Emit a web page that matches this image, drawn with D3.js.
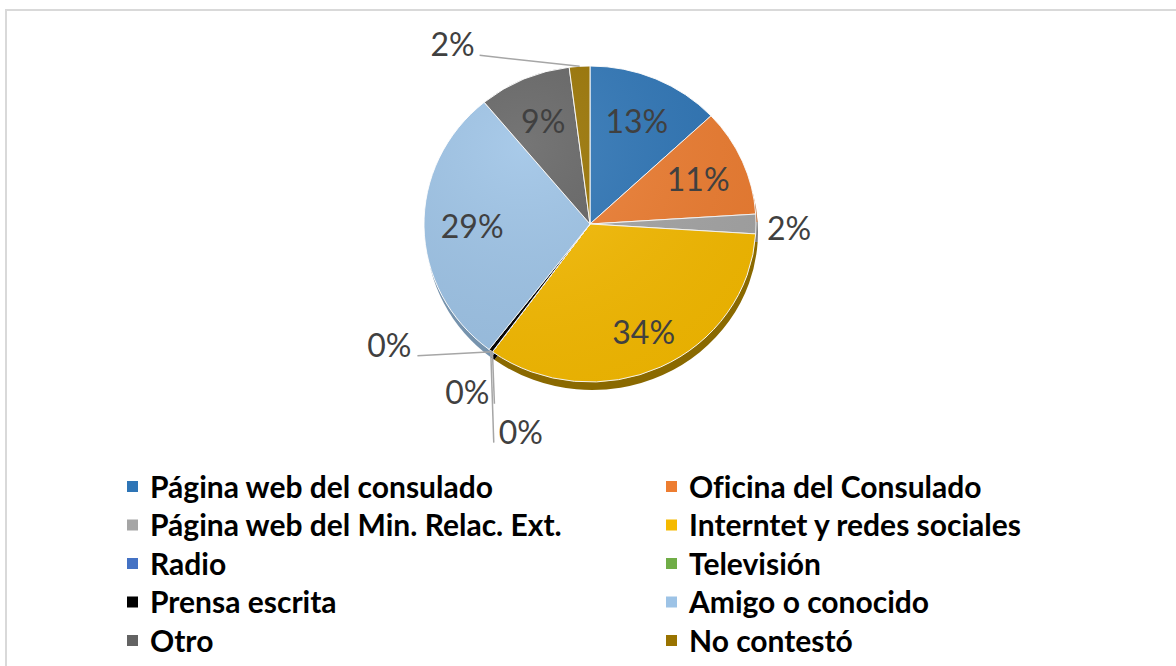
<!DOCTYPE html>
<html>
<head>
<meta charset="utf-8">
<script src="https://cdn.jsdelivr.net/npm/d3@7"></script>
<style>
  body { margin: 0; background: #fff; }
  svg { display: block; }
  text { font-variant-ligatures: none; }
</style>
</head>
<body>
<div id="chart"></div>
<script>
// data (percent of answers)
var categories = ["Página web del consulado", "Oficina del Consulado", "Página web del Min. Relac. Ext.",
  "Interntet y redes sociales", "Radio", "Televisión", "Prensa escrita", "Amigo o conocido", "Otro", "No contestó"]
var values = [13, 11, 2, 34, 0, 0, 0.4, 28.6, 9, 2]
var colors = ["#2E75B6", "#ED7D31", "#A5A5A5", "#F5BA00", "#4472C4", "#70AD47", "#000000", "#9DC3E6", "#636363", "#997300"]

var W = 1176, H = 666
var cx = 590, cy = 224, rx = 166, ry = 158, depth = 8
var fontLabel = "Lato, 'Liberation Sans', sans-serif"

var svg = d3.select("#chart").append("svg").attr("width", W).attr("height", H)

// outer chart border (right/bottom run off the picture)
svg.append("rect").attr("x", 6).attr("y", 10).attr("width", W + 20).attr("height", H + 20)
  .attr("fill", "#fff").attr("stroke", "#d9d9d9").attr("stroke-width", 2)

var pie = d3.pie().sort(null).value(d => d)
var arcs = pie(values)
var arc = d3.arc().innerRadius(0).outerRadius(rx)

var defs = svg.append("defs")
var grad = defs.append("radialGradient").attr("id", "shine")
  .attr("cx", "30%").attr("cy", "25%").attr("r", "90%")
grad.append("stop").attr("offset", 0).attr("stop-color", "#fff").attr("stop-opacity", 0.12)
grad.append("stop").attr("offset", 1).attr("stop-color", "#000").attr("stop-opacity", 0.06)

// side of the tilted pie
var side = svg.append("g").attr("transform", "translate(" + (cx + 2) + "," + (cy + depth) + ") scale(1," + (ry / rx) + ")")
side.selectAll("path").data(arcs).enter().append("path")
  .attr("d", arc)
  .attr("fill", (d, i) => d3.color(colors[i]).darker(i == 3 ? 1.6 : 0.8))

// top face
var face = svg.append("g").attr("transform", "translate(" + cx + "," + cy + ") scale(1," + (ry / rx) + ")")
face.selectAll("path").data(arcs).enter().append("path")
  .attr("d", arc)
  .attr("fill", (d, i) => colors[i])
  .attr("stroke", "#fff").attr("stroke-width", 1)
face.append("circle").attr("r", rx).attr("fill", "url(#shine)")

function pos(a, r) {
  return [cx + r * Math.sin(a), cy - r * Math.cos(a) * ry / rx]
}

// labels: big slices inside, small ones moved outside like in the original
var outside = {
  2: { dx: 33, dy: 4 },
  4: { dx: -103, dy: -6, lx: 28, ly: 10 },
  5: { dx: -25, dy: 41, lx: 27, ly: 11 },
  6: { dx: 30, dy: 82, lx: -27, ly: 10 },
  9: { dx: -127, dy: -22, lx: 27, ly: 11 }
}

arcs.forEach(function(d, i) {
  var mid = (d.startAngle + d.endAngle) / 2
  var txt = Math.round(d.value) + "%"
  var p
  if (outside[i]) {
    var o = pos(mid, rx)
    var o2 = outside[i]
    p = [o[0] + o2.dx, o[1] + o2.dy]
    if (o2.lx !== undefined) {
      svg.append("line")
        .attr("x1", p[0] + o2.lx).attr("y1", p[1] + o2.ly)
        .attr("x2", o[0]).attr("y2", o[1])
        .attr("stroke", "#a6a6a6").attr("stroke-width", 1.5)
    }
  } else {
    p = pos(mid, rx * (i == 3 ? 0.76 : 0.71))
  }
  svg.append("text")
    .attr("x", p[0]).attr("y", p[1]).attr("dy", "0.36em")
    .attr("text-anchor", "middle")
    .attr("font-family", fontLabel).attr("font-size", 32)
    .attr("fill", "#404040")
    .text(txt)
})

// legend, two columns
var legend = svg.append("g")
var colX = [127, 666], rowY0 = 487, rowH = 38.5
categories.forEach(function(c, i) {
  var col = i % 2, row = Math.floor(i / 2)
  var y = rowY0 + row * rowH
  legend.append("rect")
    .attr("x", colX[col]).attr("y", y - 6).attr("width", 11).attr("height", 11)
    .attr("fill", colors[i])
  legend.append("text")
    .attr("x", colX[col] + 23).attr("y", y).attr("dy", "0.36em")
    .attr("font-family", "Lato, 'Open Sans', sans-serif").attr("font-weight", 700)
    .attr("font-size", 30).attr("fill", "#000")
    .text(c)
})
</script>
</body>
</html>
